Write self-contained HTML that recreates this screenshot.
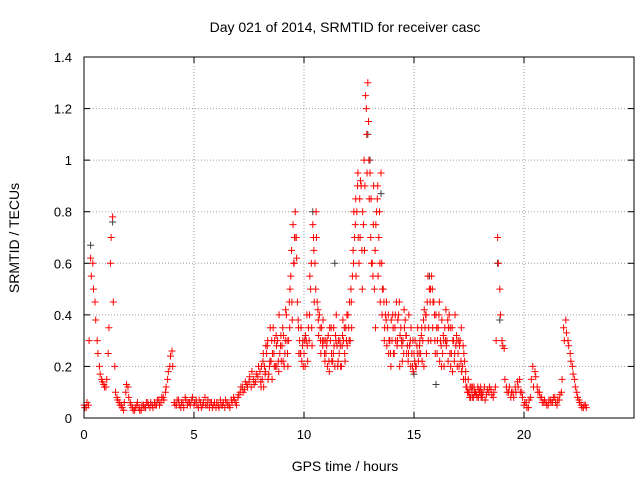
<!DOCTYPE html>
<html><head><meta charset="utf-8"><style>
body{margin:0;background:#fff}
svg{display:block;font-family:"Liberation Sans",sans-serif}
</style></head><body>
<svg id="chart" width="640" height="480">
<g id="grid"></g>
<g id="axes"></g>
<g id="marks"></g>
<rect x="84" y="57" width="550" height="361" fill="none" stroke="#000" stroke-width="1"/>
<text x="345" y="32" text-anchor="middle" font-size="14">Day 021 of 2014, SRMTID for receiver casc</text>
<text x="345" y="471" text-anchor="middle" font-size="14">GPS time / hours</text>
<text x="19" y="238" text-anchor="middle" font-size="14" transform="rotate(-90 19 238)">SRMTID / TECUs</text>
</svg>
<script>
const xTicks=[0,5,10,15,20];
const yTicks=[0,0.2,0.4,0.6,0.8,1,1.2,1.4];
const yTickLabels=["0","0.2","0.4","0.6","0.8","1","1.2","1.4"];
const seriesAStart=0.0;
const seriesAValues=[.05,.04,.05,.62,.6,.45,.3,.2,.15,.13,
.12,.25,.6,.78,.2,.08,.06,.05,.03,.1,
.12,.06,.04,.03,.05,.04,.03,.05,.04,.06,
.04,.05,.06,.05,.07,.06,.08,.1,.15,.2,
.26,.06,.05,.07,.04,.06,.08,.05,.06,.07,
.05,.07,.04,.06,.05,.08,.05,.04,.06,.05,
.04,.05,.07,.05,.04,.06,.05,.07,.08,.06,
.08,.1,.12,.11,.13,.14,.12,.15,.14,.16,
.18,.15,.2,.25,.17,.22,.35,.2,.3,.25,
.28,.2,.4,.3,.55,.75,.8,.45,.3,.22,
.25,.3,.35,.5,.75,.6,.45,.4,.35,.3,
.25,.32,.3,.22,.2,.28,.25,.2,.3,.35,
.4,.3,.55,.7,.8,.6,.9,.75,1.25,1.3,
.95,.6,.5,.8,.7,.95,.5,.4,.35,.3,
.3,.25,.45,.4,.35,.3,.38,.28,.28,.25,
.25,.2,.22,.25,.3,.35,.45,.5,.55,.45,
.4,.35,.3,.25,.35,.3,.4,.25,.3,.28,
.25,.3,.2,.22,.12,.1,.12,.08,.1,.12,
.1,.08,.12,.09,.1,.11,.08,.12,.7,.5,
.3,.27,.12,.1,.08,.1,.12,.14,.15,.1,
.05,.06,.04,.08,.2,.18,.12,.1,.08,.06,
.06,.05,.07,.06,.08,.05,.07,.1,.35,.38,
.3,.25,.2,.15,.1,.07,.05,.04,.05];
const seriesBStart=8.0;
const seriesBValues=[.12,.25,.18,.3,.22,.15,.2,.28,.18,.32,
.22,.3,.25,.35,.45,.6,.7,.35,.25,.3,
.2,.28,.4,.35,.65,.8,.38,.3,.28,.22,
.3,.18,.25,.35,.3,.22,.28,.32,.25,.4,
.3,.45,.6,.85,.95,.7,.5,.65,1.1,1.0,
.85,.75,.35,.9,.6,.4,.3,.45,.25,.2,
.35,.4,.3,.2,.28,.42,.32,.25,.2,.3,
.3,.25,.28,.35,.2,.4,.3,.5,.35,.3,
.25,.45,.2,.3,.42,.22,.35,.18,.25,.3,
.2,.35,.15,.18,.1,.12,.08,.1,.09,.11,.08];
const seriesCStart=0.0;
const seriesCValues=[.04,.06,.3,.55,.5,.38,.25,.17,.14,.12,
.15,.35,.7,.45,.1,.07,.05,.04,.06,.13,
.08,.05,.03,.04,.06,.03,.05,.04,.06,.05,
.06,.04,.05,.07,.05,.08,.07,.12,.18,.24,
.2,.05,.07,.05,.06,.04,.07,.06,.05,.08,
.06,.05,.07,.04,.06,.05,.07,.06,.04,.06,
.06,.04,.05,.06,.07,.05,.04,.06,.07,.05,
.09,.12,.1,.14,.12,.16,.18,.13,.17,.2,
.14,.22,.17,.28,.2,.3,.25,.32,.22,.28,
.35,.25,.3,.45,.65,.6,.7,.38,.25,.28,
.3,.4,.3,.6,.7,.5,.42,.35,.3,.25,
.28,.22,.35,.25,.32,.2,.3,.28,.35,.3,
.35,.5,.65,.75,.9,.85,.65,1.0,1.2,1.15,
.7,.55,.65,.85,.8,.6,.45,.38,.4,.25,
.4,.35,.28,.45,.3,.25,.32,.22,.3,.2,
.22,.28,.25,.32,.38,.4,.55,.45,.5,.4,
.35,.4,.28,.32,.3,.38,.25,.35,.22,.32,
.3,.22,.28,.15,.1,.08,.1,.12,.09,.08,
.12,.1,.07,.11,.12,.09,.1,.3,.6,.4,
.28,.15,.1,.12,.1,.08,.1,.12,.1,.08,
.06,.04,.07,.15,.12,.16,.1,.08,.06,.07,
.05,.07,.06,.08,.06,.07,.09,.15,.3,.33,
.28,.22,.17,.12,.08,.06,.04,.05,.04];
const seriesDStart=8.0;
const seriesDValues=[.2,.12,.28,.15,.35,.25,.3,.2,.4,.22,
.32,.42,.2,.5,.38,.7,.62,.25,.35,.2,
.32,.22,.55,.28,.45,.7,.32,.25,.38,.3,
.2,.35,.22,.28,.4,.3,.2,.38,.22,.28,
.45,.35,.8,.55,.7,.92,.8,.9,.95,.85,
.6,.9,.75,.55,.45,.5,.35,.28,.3,.38,
.25,.3,.38,.32,.22,.35,.25,.4,.35,.18,
.2,.35,.3,.22,.42,.25,.35,.3,.45,.25,
.3,.22,.38,.2,.28,.35,.2,.3,.4,.2,
.28,.18,.25,.12,.15,.08,.12,.1,.08,.1,.1];
const grayTimes=[0.3,1.3,12.9,13.0,13.5,10.4,11.4,15.7,18.9,18.8,15.0,16.0];
const grayValues=[.67,.76,1.1,1.0,.87,.8,.6,.55,.38,.6,.17,.13];
const step=0.1;

const NS="http://www.w3.org/2000/svg";
const X0=84,X1=634,Y0=418,Y1=57;
function xs(t){return X0+(t/25)*(X1-X0);}
function ys(v){return Y0-(v/1.4)*(Y0-Y1);}
const grid=document.getElementById('grid'),axes=document.getElementById('axes'),marks=document.getElementById('marks');
function mk(tag,attrs,parent){const e=document.createElementNS(NS,tag);for(const k in attrs)e.setAttribute(k,attrs[k]);parent.appendChild(e);return e;}
xTicks.forEach(t=>{
  const x=xs(t);
  if(t>0){const g=mk('line',{x1:x,x2:x,y1:Y0,y2:Y1,stroke:'#a0a0a0','stroke-dasharray':'1,2'},grid);
  
  }
  mk('line',{x1:x,x2:x,y1:Y0,y2:Y0-6,stroke:'#000'},axes);
  mk('line',{x1:x,x2:x,y1:Y1,y2:Y1+6,stroke:'#000'},axes);
  const l=mk('text',{x:x,y:Y0+21,'text-anchor':'middle','font-size':13},axes);
  l.textContent=t;
  
  
});
yTicks.forEach((v,i)=>{
  const y=ys(v);
  if(v>0&&v<1.4){const g=mk('line',{x1:X0,x2:X1,y1:y,y2:y,stroke:'#a0a0a0','stroke-dasharray':'1,2'},grid);
  
  }
  mk('line',{x1:X0,x2:X0+6,y1:y,y2:y,stroke:'#000'},axes);
  mk('line',{x1:X1,x2:X1-6,y1:y,y2:y,stroke:'#000'},axes);
  const l=mk('text',{x:X0-12,y:y+5,'text-anchor':'end','font-size':13},axes);
  l.textContent=yTickLabels[i];
  
  
});
function plus(t,v,color){
  const x=xs(t),y=ys(v);
  const p=mk('path',{d:`M${x-3.5},${y}h7M${x},${y-3.5}v7`,stroke:color,'stroke-width':1,fill:'none'},marks);
  
  
}
grayTimes.forEach((t,i)=>plus(t,grayValues[i],'#404040'));
seriesAValues.forEach((v,i)=>plus(seriesAStart+i*step,v,'#ff0000'));
seriesBValues.forEach((v,i)=>plus(seriesBStart+i*step+0.05,v,'#ff0000'));
seriesCValues.forEach((v,i)=>plus(seriesCStart+i*step+0.033,v,'#ff0000'));
seriesDValues.forEach((v,i)=>plus(seriesDStart+i*step+0.066,v,'#ff0000'));
</script>
</body></html>
